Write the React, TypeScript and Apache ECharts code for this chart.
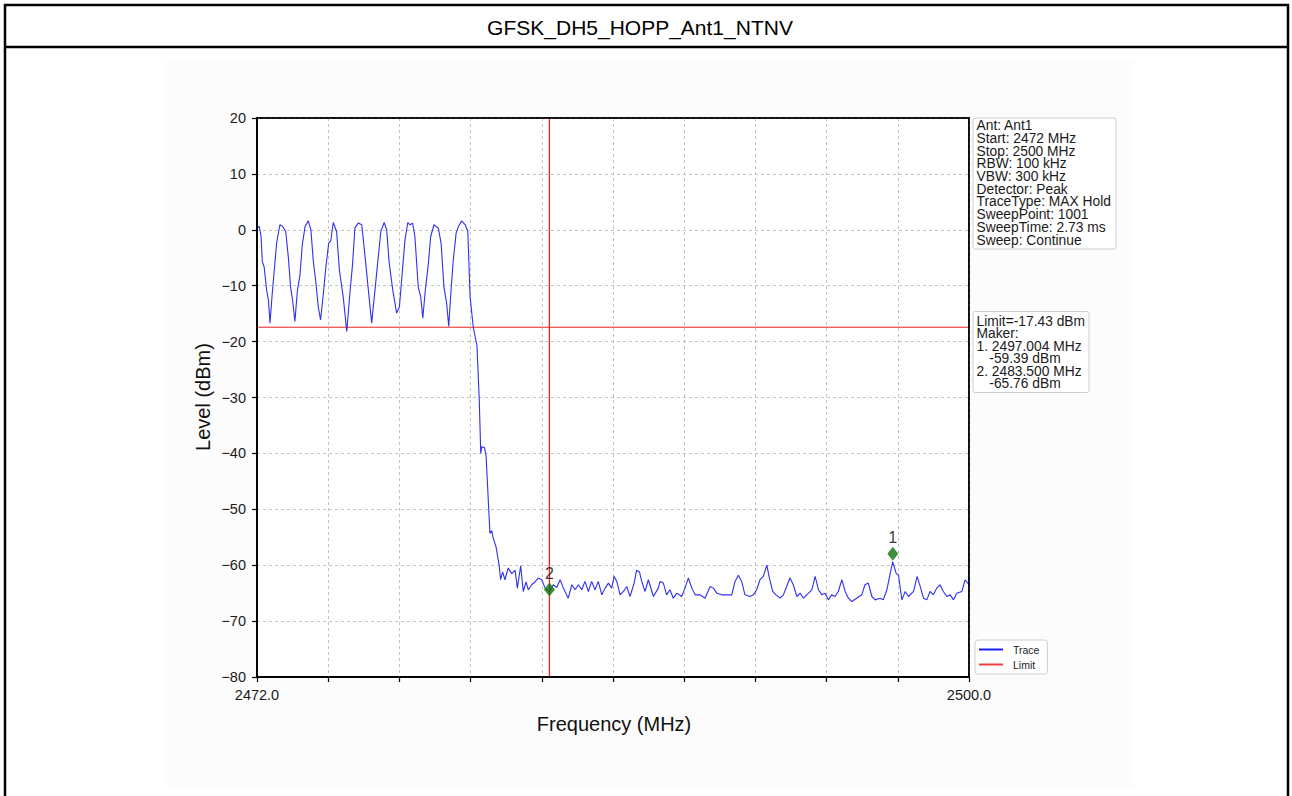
import React, { useEffect, useRef } from "react";
import * as echarts from "echarts";

const TITLE = "GFSK_DH5_HOPP_Ant1_NTNV";
const START_MHZ = 2472;
const STOP_MHZ = 2500;
const X_STEP = 2.8;
const Y_MIN = -80;
const Y_MAX = 20;
const Y_STEP = 10;
const LIMIT_DBM = -17.43;

// [frequency MHz, level dBm]
const TRACE_POINTS: number[][] = [
  [2472.0, 0.3], [2472.09, 0.6], [2472.16, -1.2], [2472.21, -5.7], [2472.28, -6.6], [2472.38, -10.8],
  [2472.45, -12.6], [2472.51, -16.7], [2472.6, -11.4], [2472.68, -7.2], [2472.77, -2.4], [2472.9, 0.9],
  [2473.01, 0.6], [2473.13, -0.3], [2473.23, -4.8], [2473.32, -10.2], [2473.4, -12.6], [2473.49, -16.4],
  [2473.59, -10.8], [2473.69, -8.1], [2473.78, -2.7], [2473.89, 0.6], [2474.02, 1.6], [2474.12, 0.0],
  [2474.21, -5.4], [2474.32, -9.6], [2474.41, -13.8], [2474.5, -16.1], [2474.61, -11.4], [2474.71, -6.6],
  [2474.82, -2.4], [2474.9, -2.0], [2475.0, 1.3], [2475.13, -0.3], [2475.24, -7.2], [2475.39, -12.0],
  [2475.53, -18.2], [2475.63, -12.6], [2475.76, -6.0], [2475.85, 0.3], [2475.98, 1.2], [2476.12, 0.9],
  [2476.25, -4.8], [2476.38, -10.8], [2476.51, -16.7], [2476.64, -10.8], [2476.75, -5.7], [2476.87, -0.3],
  [2477.0, 1.3], [2477.1, 0.0], [2477.2, -6.0], [2477.34, -10.8], [2477.49, -14.9], [2477.6, -13.8],
  [2477.72, -7.2], [2477.82, -1.8], [2477.93, 1.3], [2478.02, 0.9], [2478.12, 1.2], [2478.21, -1.2],
  [2478.34, -10.2], [2478.44, -12.0], [2478.52, -15.8], [2478.62, -10.8], [2478.74, -6.0], [2478.83, -1.2],
  [2478.96, 0.9], [2479.13, 0.3], [2479.24, -2.4], [2479.35, -10.2], [2479.46, -13.2], [2479.54, -17.3],
  [2479.63, -10.8], [2479.72, -5.4], [2479.83, -0.6], [2479.92, 0.6], [2480.05, 1.6], [2480.19, 0.9],
  [2480.29, -0.3], [2480.38, -12.0], [2480.51, -17.6], [2480.65, -20.7], [2480.74, -30.4], [2480.8, -40.0],
  [2480.84, -38.8], [2480.95, -39.0], [2481.01, -40.5], [2481.16, -54.3], [2481.23, -53.8], [2481.29, -55.2],
  [2481.4, -56.7], [2481.53, -60.3], [2481.58, -62.6], [2481.66, -61.2], [2481.75, -62.6], [2481.88, -60.5],
  [2482.02, -61.5], [2482.15, -60.9], [2482.24, -64.1], [2482.37, -60.1], [2482.47, -64.7], [2482.58, -63.0],
  [2482.67, -64.4], [2482.8, -63.5], [2482.93, -63.0], [2483.06, -62.3], [2483.2, -62.6], [2483.33, -64.1],
  [2483.5, -64.8], [2483.65, -63.5], [2483.79, -64.0], [2483.92, -62.6], [2484.05, -64.1], [2484.24, -65.9],
  [2484.38, -63.5], [2484.51, -64.4], [2484.64, -63.5], [2484.77, -64.4], [2484.9, -62.9], [2485.03, -64.7],
  [2485.16, -62.9], [2485.29, -64.4], [2485.42, -62.9], [2485.56, -65.3], [2485.69, -64.1], [2485.82, -63.2],
  [2485.95, -64.1], [2486.04, -62.0], [2486.15, -62.9], [2486.28, -65.3], [2486.41, -64.7], [2486.54, -63.8],
  [2486.67, -65.6], [2486.83, -63.2], [2486.93, -60.9], [2487.04, -61.2], [2487.13, -62.9], [2487.26, -64.7],
  [2487.39, -62.6], [2487.59, -65.6], [2487.78, -64.1], [2487.85, -62.9], [2487.98, -63.2], [2488.11, -65.3],
  [2488.24, -64.4], [2488.37, -65.9], [2488.51, -65.0], [2488.7, -65.6], [2488.83, -64.1], [2488.96, -62.3],
  [2489.1, -64.1], [2489.23, -65.3], [2489.42, -65.3], [2489.62, -65.9], [2489.82, -63.8], [2489.95, -64.1],
  [2490.08, -65.0], [2490.28, -65.3], [2490.47, -65.3], [2490.67, -65.3], [2490.8, -62.9], [2490.93, -61.8],
  [2491.06, -62.9], [2491.19, -65.3], [2491.39, -65.6], [2491.52, -65.3], [2491.65, -64.4], [2491.78, -62.6],
  [2491.91, -62.0], [2492.05, -60.0], [2492.15, -62.3], [2492.28, -64.7], [2492.41, -65.3], [2492.57, -65.9],
  [2492.7, -65.3], [2492.83, -63.8], [2492.96, -62.3], [2493.09, -63.5], [2493.23, -65.6], [2493.36, -65.0],
  [2493.49, -65.9], [2493.62, -65.3], [2493.82, -64.4], [2493.95, -62.0], [2494.08, -64.4], [2494.21, -65.3],
  [2494.34, -65.0], [2494.47, -66.2], [2494.6, -65.3], [2494.73, -65.6], [2494.86, -64.7], [2495.0, -62.6],
  [2495.13, -64.7], [2495.26, -65.9], [2495.39, -66.5], [2495.58, -65.9], [2495.78, -65.3], [2495.91, -63.5],
  [2496.04, -63.2], [2496.18, -65.6], [2496.31, -66.2], [2496.5, -65.9], [2496.63, -66.2], [2496.77, -64.4],
  [2496.9, -61.5], [2497.0, -59.4], [2497.14, -61.5], [2497.23, -61.8], [2497.36, -66.2], [2497.49, -64.7],
  [2497.62, -65.6], [2497.82, -64.7], [2497.96, -62.0], [2498.08, -63.8], [2498.21, -65.9], [2498.34, -66.2],
  [2498.47, -64.7], [2498.6, -65.3], [2498.73, -64.1], [2498.86, -63.5], [2498.99, -64.7], [2499.13, -65.6],
  [2499.26, -65.3], [2499.39, -66.2], [2499.52, -65.0], [2499.72, -64.7], [2499.85, -62.6], [2500.0, -63.5],
];

const MARKER_NAMES = ["1", "2"];
const MARKER_FREQ = [2497.004, 2483.5];
const MARKER_LEVEL = [-59.39, -65.76];

const INFO_LINES = [
  "Ant: Ant1",
  "Start: 2472 MHz",
  "Stop: 2500 MHz",
  "RBW: 100 kHz",
  "VBW: 300 kHz",
  "Detector: Peak",
  "TraceType: MAX Hold",
  "SweepPoint: 1001",
  "SweepTime: 2.73 ms",
  "Sweep: Continue",
];
const MARKER_LINES = [
  "Limit=-17.43 dBm",
  "Maker:",
  "1. 2497.004 MHz",
  "-59.39 dBm",
  "2. 2483.500 MHz",
  "-65.76 dBm",
];
const MARKER_LINE_INDENT = [0, 0, 0, 1, 0, 1];

const FONT = "'Liberation Sans', Arial, Helvetica, sans-serif";
const RED = "#f02020";

export default function App() {
  const ref = useRef<HTMLDivElement>(null);

  useEffect(() => {
    if (!ref.current) return;
    const chart = echarts.init(ref.current, undefined, { renderer: "svg" });
    const span = STOP_MHZ - START_MHZ;
    const near = (a: number, b: number) => Math.abs(a - b) < 1e-6;

    const graphics: any[] = [
      { type: "rect", z: -10, shape: { x: 165, y: 60, width: 968, height: 727 }, style: { fill: "#fcfcfc" } },
      { type: "rect", shape: { x: 5, y: 5, width: 1283, height: 800 }, style: { fill: "none", stroke: "#000", lineWidth: 2.5 } },
      { type: "line", shape: { x1: 5, y1: 47, x2: 1288, y2: 47 }, style: { stroke: "#000", lineWidth: 2.5 } },
      {
        type: "text", x: 640, y: 27,
        style: { text: TITLE, font: `21px ${FONT}`, fill: "#000", align: "center", verticalAlign: "middle" },
      },
      {
        type: "text", x: 614, y: 724,
        style: { text: "Frequency (MHz)", font: `20px ${FONT}`, fill: "#111", align: "center", verticalAlign: "middle" },
      },
      {
        type: "text", x: 203, y: 397, rotation: Math.PI / 2,
        style: { text: "Level (dBm)", font: `20px ${FONT}`, fill: "#111", align: "center", verticalAlign: "middle" },
      },
      { type: "rect", shape: { x: 973, y: 118, width: 143, height: 131, r: 2 }, style: { fill: "#fff", stroke: "#cfcfcf", lineWidth: 1 } },
      { type: "rect", shape: { x: 973, y: 311.5, width: 116, height: 81, r: 2 }, style: { fill: "#fff", stroke: "#cfcfcf", lineWidth: 1 } },
      // plot frame on top of the dashed grid lines
      {
        type: "rect", z: 10, silent: true,
        shape: { x: 257, y: 118, width: 712, height: 559 },
        style: { fill: "none", stroke: "#000", lineWidth: 1.5 },
      },
    ];
    INFO_LINES.forEach((t, i) => {
      graphics.push({
        type: "text", x: 976.5, y: 125.7 + i * 12.7,
        style: { text: t, font: `13.8px ${FONT}`, fill: "#1a1a1a", align: "left", verticalAlign: "middle" },
      });
    });
    MARKER_LINES.forEach((t, i) => {
      graphics.push({
        type: "text", x: 976.5 + MARKER_LINE_INDENT[i] * 12.8, y: 321 + i * 12.5,
        style: { text: t, font: `13.8px ${FONT}`, fill: "#1a1a1a", align: "left", verticalAlign: "middle" },
      });
    });

    chart.setOption({
      animation: false,
      backgroundColor: "#fff",
      textStyle: { fontFamily: FONT },
      grid: {
        left: 257, top: 118, right: 323, bottom: 119,
        show: true, borderColor: "#000", borderWidth: 1.5, backgroundColor: "#fff",
      },
      legend: {
        data: ["Trace", "Limit"],
        orient: "vertical",
        left: 975, top: 640,
        icon: "rect",
        itemWidth: 24, itemHeight: 2, itemGap: 4,
        padding: [4, 8, 4, 4],
        backgroundColor: "#fff", borderColor: "#cfcfcf", borderWidth: 1, borderRadius: 3,
        textStyle: { fontSize: 10.5, color: "#222", fontFamily: FONT, padding: [0, 0, 0, 5] },
      },
      xAxis: {
        type: "value", min: 0, max: span, interval: X_STEP,
        axisLine: { show: true, onZero: false, lineStyle: { color: "#000", width: 1.5 } },
        axisTick: { show: true, length: 5, lineStyle: { color: "#000", width: 1.2 } },
        axisLabel: {
          color: "#1a1a1a", fontSize: 14.5, margin: 10, fontFamily: FONT,
          formatter: (v: number) => (near(v, 0) ? START_MHZ.toFixed(1) : near(v, span) ? STOP_MHZ.toFixed(1) : ""),
        },
        splitLine: { show: true, lineStyle: { type: [3, 3], color: "#b4b4b4", width: 0.8 } },
      },
      yAxis: {
        type: "value", min: Y_MIN, max: Y_MAX, interval: Y_STEP,
        axisLine: { show: true, onZero: false, lineStyle: { color: "#000", width: 1.5 } },
        axisTick: { show: true, length: 5, lineStyle: { color: "#000", width: 1.2 } },
        axisLabel: {
          color: "#1a1a1a", fontSize: 14.5, margin: 11, fontFamily: FONT,
          formatter: (v: number) => (v < 0 ? "\u2212" + Math.abs(v) : String(v)),
        },
        splitLine: { show: true, lineStyle: { type: [3, 3], color: "#b4b4b4", width: 0.8 } },
      },
      graphic: graphics,
      series: [
        {
          name: "Trace", type: "line", showSymbol: false, symbol: "none",
          color: "#1f1ff0",
          lineStyle: { color: "#3030f0", width: 1.1 },
          data: TRACE_POINTS.map((p) => [p[0] - START_MHZ, p[1]]),
          z: 3,
        },
        {
          name: "Limit", type: "line", showSymbol: false, symbol: "none",
          color: "#ee3b3b",
          lineStyle: { color: RED, width: 1 },
          data: [[0, LIMIT_DBM], [span, LIMIT_DBM]],
          z: 2,
        },
        {
          name: "MarkerLine", type: "line", showSymbol: false, symbol: "none",
          color: RED,
          lineStyle: { color: RED, width: 1.3 },
          data: [[MARKER_FREQ[1] - START_MHZ, Y_MIN], [MARKER_FREQ[1] - START_MHZ, Y_MAX]],
          z: 4,
        },
        {
          name: "Markers", type: "scatter", symbol: "diamond", symbolSize: [11, 14],
          symbolOffset: [0, -8],
          itemStyle: { color: "#0e730e" },
          label: {
            show: true, position: "top", distance: 1, formatter: "{b}",
            color: "#000", fontSize: 16, fontFamily: FONT,
          },
          data: MARKER_NAMES.map((n, i) => ({ name: n, value: [MARKER_FREQ[i] - START_MHZ, MARKER_LEVEL[i]] })),
          z: 5,
        },
      ],
    });
    return () => chart.dispose();
  }, []);

  return <div ref={ref} style={{ position: "fixed", left: 0, top: 0, width: 1292, height: 796 }} />;
}
